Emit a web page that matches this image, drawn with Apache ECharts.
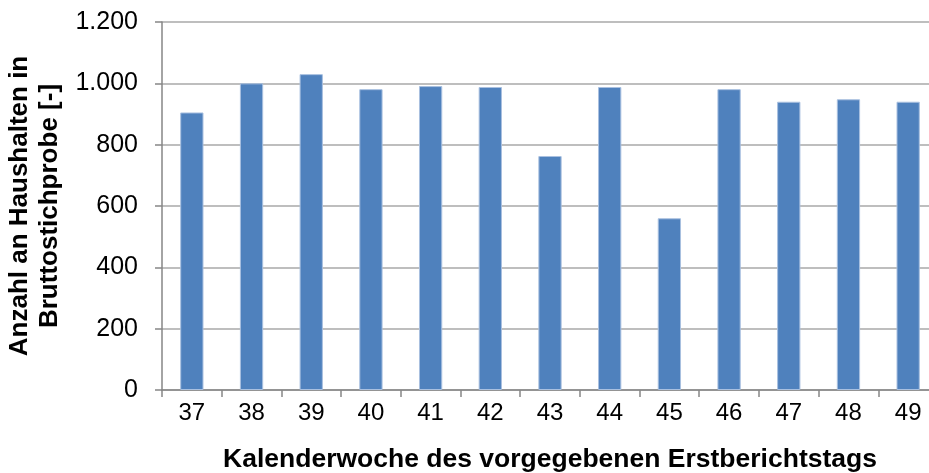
<!DOCTYPE html>
<html>
<head>
<meta charset="utf-8">
<script src="https://cdn.jsdelivr.net/npm/echarts@6/dist/echarts.min.js"></script>
<style>
  html, body { margin: 0; padding: 0; background: #fff; }
  #chart { width: 929px; height: 473px; }
</style>
</head>
<body>
<div id="chart"></div>
<script>
const weeks = ['37', '38', '39', '40', '41', '42', '43', '44', '45', '46', '47', '48', '49']
const households = [905, 1000, 1030, 981, 991, 988, 763, 988, 560, 981, 940, 948, 940]
const yTicks = { min: 0, max: 1200, interval: 200 }

const font = 'Liberation Sans, Arial, sans-serif'

function germanNumber(v) {
  return String(v).replace(/\B(?=(\d{3})+(?!\d))/g, '.')
}

const chart = echarts.init(document.getElementById('chart'))
chart.setOption({
  animation: false,
  grid: { left: 162, right: -9, top: 22, bottom: 83, outerBoundsMode: 'none' },
  xAxis: {
    type: 'category',
    data: weeks,
    name: 'Kalenderwoche des vorgegebenen Erstberichtstags',
    nameLocation: 'middle',
    nameGap: 56,
    nameTextStyle: { fontFamily: font, fontSize: 26.5, fontWeight: 'bold', color: '#000' },
    axisLine: { lineStyle: { color: '#868686', width: 1.5 } },
    axisTick: { show: true, length: 7, lineStyle: { color: '#868686', width: 1.5 } },
    axisLabel: { fontFamily: font, fontSize: 24, color: '#000', margin: 11 },
  },
  yAxis: {
    type: 'value',
    min: yTicks.min,
    max: yTicks.max,
    interval: yTicks.interval,
    name: 'Anzahl an Haushalten in\nBruttostichprobe [-]',
    nameLocation: 'middle',
    nameGap: 89,
    nameTextStyle: { fontFamily: font, fontSize: 26, fontWeight: 'bold', color: '#000', lineHeight: 30 },
    axisLine: { show: true, lineStyle: { color: '#868686', width: 1.5 } },
    axisTick: { show: true, length: 7, lineStyle: { color: '#868686', width: 1.5 } },
    axisLabel: { fontFamily: font, fontSize: 25, color: '#000', margin: 24, formatter: germanNumber },
    splitLine: { lineStyle: { color: '#a8a8a8', width: 1.7 } },
  },
  series: [
    {
      type: 'bar',
      data: households,
      barWidth: '39%',
      itemStyle: { color: '#4f81bd', borderColor: '#a9c0e0', borderWidth: 1 },
    },
  ],
})
</script>
</body>
</html>
